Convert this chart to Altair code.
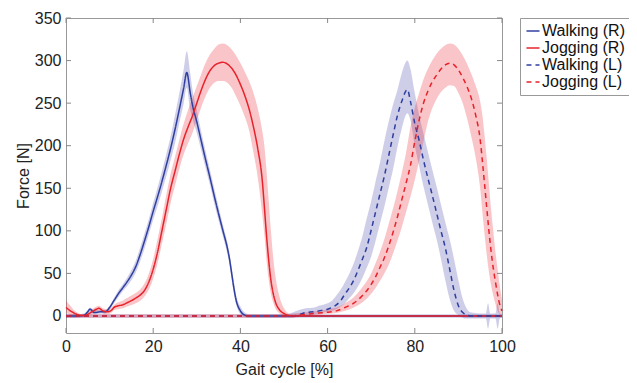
import altair as alt
import pandas as pd

# ---------------- data ----------------
SERIES = ["Walking (R)", "Jogging (R)", "Walking (L)", "Jogging (L)"]
LINE_COLORS = ["#2f3f9f", "#e8222a", "#2f3f9f", "#e8222a"]
BAND_COLORS = ["#5050b0", "#e83038", "#5050b0", "#e83038"]

X_TICKS = [0, 20, 40, 60, 80, 100]
Y_TICKS = [0, 50, 100, 150, 200, 250, 300, 350]

# Walking (R)
wr_x = [0, 2, 4, 5, 5.5, 6.5, 8, 9, 10, 11, 12, 13, 14, 15, 16, 17, 18, 19, 20, 21,
        22, 23, 24, 25, 26, 27, 27.7, 28.5, 29, 30, 31, 32, 33, 34, 35, 36, 37, 37.5, 38, 38.5,
        39, 40, 41, 42, 45, 100]
wr_mean = [0, 0, 0.5, 5, 8, 4, 5, 5, 10, 18, 26, 33, 40, 48, 58, 72, 88, 105, 123, 140,
           158, 177, 197, 219, 243, 268, 286, 262, 248, 228, 206, 184, 163, 141, 120, 100, 80, 67, 50, 33,
           19, 6, 1, 0, 0, 0]
wr_hi = [2, 2, 3, 7, 10, 7, 7, 7, 12, 21, 30, 37, 45, 54, 65, 80, 97, 114, 133, 151,
         170, 190, 211, 236, 262, 290, 311, 285, 266, 242, 217, 194, 172, 150, 128, 107, 87, 74, 57, 40,
         25, 11, 4, 2, 2, 2]
wr_lo = [-2, -2, -1, 3, 5, 2, 3, 3, 7, 15, 22, 29, 35, 42, 51, 64, 79, 96, 113, 129,
         146, 164, 183, 203, 227, 250, 268, 242, 232, 215, 195, 174, 154, 132, 112, 93, 73, 60, 43, 26,
         14, 2, -1, -2, -2, -2]

# Jogging (R)
jr_x = [0, 1, 2, 3, 4, 5, 6, 7, 7.5, 8.5, 9.5, 10.5, 11, 12, 13, 14, 15, 16, 17, 18,
        19, 20, 21, 22, 23, 24, 25, 26, 27, 28, 29, 30, 31, 32, 33, 34, 35, 36, 37, 38,
        39, 40, 41, 42, 43, 44, 45, 45.5, 46, 46.5, 47, 47.5, 48, 49, 50, 51, 52, 55, 100]
jr_mean = [10, 6, 3, 1, 0.5, 2, 5, 8, 9, 6, 5, 7, 10, 12, 13, 15.5, 18, 21, 24.5, 30,
           40, 55, 75, 100, 125, 150, 170, 190, 208, 222, 235, 250, 265, 278, 288, 294, 297, 298, 296, 291,
           283, 272, 259, 243, 222, 196, 160, 128, 94, 65, 42, 27, 17, 7, 3, 0.5, 0, 0, 0]
jr_hi = [18, 12, 6, 3, 2, 4, 8, 11, 12, 9, 8, 10, 13, 16, 18, 21, 24, 27, 31, 38,
         50, 67, 90, 115, 142, 167, 187, 207, 226, 242, 256, 270, 284, 297, 307, 314, 319, 320, 318, 313,
         306, 297, 287, 276, 262, 243, 218, 200, 170, 135, 100, 70, 48, 22, 9, 3, 1, 1, 1]
jr_lo = [4, 1, 0, -1, -1, 0, 2, 5, 6, 3, 2, 4, 7, 8, 9, 11, 13, 15, 18, 23,
         31, 44, 62, 85, 108, 133, 153, 173, 190, 203, 215, 230, 245, 258, 268, 274, 276, 276, 274, 268,
         258, 247, 234, 218, 192, 162, 120, 95, 65, 42, 26, 16, 9, 3, 0, -1, -1, -1, -1]

# Walking (L)
wl_x = [0, 50, 52, 53, 55, 57, 58, 60, 61, 62, 63, 64, 65, 66, 67, 68, 69, 70, 71, 72,
        73, 74, 75, 76, 77, 78.3, 79, 80, 81, 82, 83, 84, 85, 86, 87, 88, 89, 90, 91, 92,
        93, 95, 96.3, 96.8, 97.3, 98.5, 99, 99.5, 100]
wl_mean = [0, 0, 0, 1, 4, 5, 6, 8, 10, 13, 18, 26, 33, 42, 54, 67, 81, 101, 122, 143,
           164, 188, 212, 235, 252, 266, 252, 226, 206, 183, 162, 142, 121, 100, 80, 55, 30, 12, 4, 1,
           0, 0, 0, 0, 0, 0, 0, 0, 0]
wl_hi = [2, 2, 4, 6, 9, 10, 12, 15, 18, 24, 31, 40, 50, 62, 77, 94, 115, 135, 158, 180,
         205, 228, 248, 265, 285, 300, 290, 262, 236, 214, 193, 172, 152, 131, 110, 90, 67, 42, 20, 8,
         4, 3, 3, 15, 3, 3, 15, 3, 2]
wl_lo = [-2, -2, -2, -1, 1, 2, 3, 5, 6, 8, 11, 15, 21, 27, 35, 45, 57, 70, 88, 108,
         128, 150, 172, 198, 220, 238, 230, 200, 176, 152, 131, 110, 90, 67, 42, 20, 6, 1, -2, -3,
         -3, -3, -3, -15, -3, -3, -15, -3, -2]

# Jogging (L)
jl_x = [0, 50, 52, 55, 58, 60, 62, 64, 66, 68, 70, 71, 72, 73, 74, 75, 76, 77, 78, 79,
        80, 81, 82, 83, 84, 85, 86, 87, 88, 89, 90, 91, 92, 93, 94, 95, 95.5, 96, 96.5, 97,
        97.5, 98, 98.5, 99, 99.5, 100]
jl_mean = [0, 0, 0, 2, 3.5, 4.5, 6, 10, 15, 24, 37, 46, 57, 68, 82, 98, 116, 136, 156, 177,
           205, 230, 250, 264, 275, 283, 290, 295, 297, 295, 289, 280, 269, 255, 235, 207, 182, 155, 127, 100,
           76, 56, 40, 25, 13, 6]
jl_hi = [2, 2, 3, 4.5, 6, 8, 10, 15, 22, 34, 50, 62, 75, 90, 108, 126, 146, 168, 192, 222,
         245, 262, 278, 290, 300, 308, 314, 318, 320, 319, 314, 306, 296, 284, 270, 252, 236, 212, 185, 155,
         125, 100, 75, 55, 35, 20]
jl_lo = [-2, -2, -2, 0, 1.5, 2.5, 3.5, 6, 10, 16, 26, 33, 41, 50, 60, 73, 88, 104, 122, 140,
         160, 182, 205, 228, 244, 255, 263, 268, 271, 270, 262, 250, 232, 210, 185, 150, 122, 96, 72, 52,
         36, 24, 14, 6, 2, 0]

ALL = [(wr_x, wr_mean, wr_lo, wr_hi), (jr_x, jr_mean, jr_lo, jr_hi),
       (wl_x, wl_mean, wl_lo, wl_hi), (jl_x, jl_mean, jl_lo, jl_hi)]

# ---------------- chart ----------------
W, H = 436, 315
FONT = "Liberation Sans"

xscale = alt.Scale(domain=[0, 100], nice=False, zero=False)
yscale = alt.Scale(domain=[-20, 350], nice=False, zero=False)

xaxis = alt.Axis(values=X_TICKS, title="Gait cycle [%]", ticks=False, domain=False, grid=False,
                 labelPadding=5, titlePadding=7, labelFlush=False)
yaxis = alt.Axis(values=Y_TICKS, title="Force [N]", ticks=False, domain=False, grid=False,
                 labelPadding=5, titlePadding=3)

cscale = alt.Scale(domain=SERIES, range=LINE_COLORS)
dscale = alt.Scale(domain=SERIES, range=[[1, 0], [1, 0], [5, 4], [5, 4]])
wscale = alt.Scale(domain=SERIES, range=[1.5, 1.5, 2.2, 2.2])
legend = alt.Legend(title=None, orient="none", legendX=454, legendY=0)

bands = []
lines = []
for name, (xs, mean, lo, hi), bcol in zip(SERIES, ALL, BAND_COLORS):
    df = pd.DataFrame({"x": xs, "mean": mean, "lo": lo, "hi": hi, "series": name})
    bands.append(
        alt.Chart(df).mark_area(interpolate="monotone", fill=bcol, opacity=0.28).encode(
            x=alt.X("x:Q", scale=xscale, axis=xaxis),
            y=alt.Y("lo:Q", scale=yscale, axis=yaxis),
            y2="hi:Q",
        )
    )
    lines.append(
        alt.Chart(df).mark_line(interpolate="monotone").encode(
            x=alt.X("x:Q", scale=xscale, axis=xaxis),
            y=alt.Y("mean:Q", scale=yscale, axis=yaxis),
            color=alt.Color("series:N", scale=cscale, legend=legend),
            strokeDash=alt.StrokeDash("series:N", scale=dscale, legend=legend),
            strokeWidth=alt.StrokeWidth("series:N", scale=wscale, legend=None),
        )
    )

xt = pd.DataFrame({"t": X_TICKS})
yt = pd.DataFrame({"t": Y_TICKS})
tick_col = "#888888"
ticks = [
    alt.Chart(xt).mark_rule(color=tick_col).encode(
        x=alt.X("t:Q", scale=xscale), y=alt.value(H), y2=alt.value(H - 5)),
    alt.Chart(xt).mark_rule(color=tick_col).encode(
        x=alt.X("t:Q", scale=xscale), y=alt.value(0), y2=alt.value(5)),
    alt.Chart(yt).mark_rule(color=tick_col).encode(
        y=alt.Y("t:Q", scale=yscale), x=alt.value(0), x2=alt.value(5)),
    alt.Chart(yt).mark_rule(color=tick_col).encode(
        y=alt.Y("t:Q", scale=yscale), x=alt.value(W), x2=alt.value(W - 5)),
]

chart = alt.layer(*bands, *ticks, *lines).properties(
    width=W, height=H,
    autosize=alt.AutoSizeParams(type="none"),
    padding={"left": 58, "top": 10, "right": 127, "bottom": 50},
).configure(font=FONT).configure_view(
    stroke="#999999", strokeWidth=1
).configure_axis(
    labelFont=FONT, titleFont=FONT, labelFontSize=16, titleFontSize=16,
    labelColor="#222222", titleColor="#222222", titleFontWeight="normal",
).configure_legend(
    labelFont=FONT, labelFontSize=16, labelColor="#111111",
    symbolType="stroke", symbolSize=170, symbolStrokeWidth=1.6,
    strokeColor="#999999", padding=5, rowPadding=1, labelOffset=1,
    fillColor="white",
)

chart.save("out.html", embed_options={"renderer": "svg", "actions": False})
